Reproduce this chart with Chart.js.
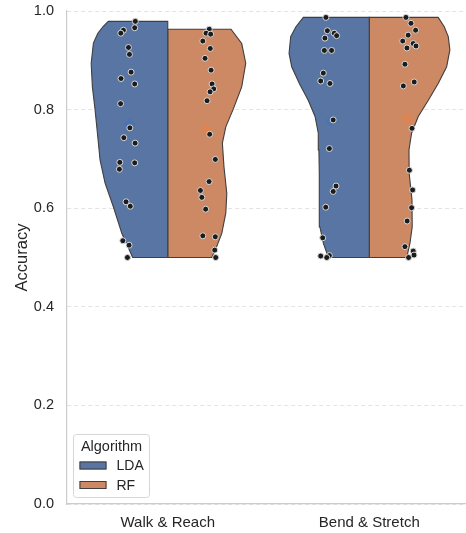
<!DOCTYPE html>
<html>
<head>
<meta charset="utf-8">
<script src="https://cdn.jsdelivr.net/npm/chart.js@4.4.1/dist/chart.umd.min.js"></script>
<style>
  html, body { margin: 0; padding: 0; background: #fff; }
  canvas { display: block; }
</style>
</head>
<body>
<canvas id="violin" width="466" height="533"></canvas>
<script>
// Split violin of accuracy per activity, LDA vs RF
const categories = ['Walk & Reach', 'Bend & Stretch'];
const algorithms = ['LDA', 'RF'];

// raw accuracy values (strip points) and their horizontal jitter
const wrLdaAcc = [0.979, 0.966, 0.961, 0.955, 0.926, 0.912, 0.876, 0.863, 0.852, 0.812, 0.763, 0.743, 0.732, 0.693, 0.692, 0.679, 0.613, 0.604, 0.534, 0.525, 0.500];
const wrLdaJit = [-0.161, -0.164, -0.220, -0.233, -0.195, -0.190, -0.182, -0.232, -0.164, -0.234, -0.188, -0.218, -0.162, -0.238, -0.164, -0.240, -0.207, -0.186, -0.223, -0.192, -0.200];
const wrRfAcc = [0.963, 0.955, 0.953, 0.939, 0.924, 0.904, 0.880, 0.852, 0.842, 0.836, 0.818, 0.750, 0.699, 0.654, 0.636, 0.622, 0.598, 0.544, 0.542, 0.515, 0.500];
const wrRfJit = [0.206, 0.190, 0.213, 0.174, 0.211, 0.185, 0.215, 0.220, 0.228, 0.210, 0.195, 0.208, 0.236, 0.205, 0.162, 0.169, 0.188, 0.174, 0.236, 0.233, 0.238];
const bsLdaAcc = [0.987, 0.960, 0.955, 0.950, 0.945, 0.920, 0.920, 0.874, 0.858, 0.853, 0.779, 0.721, 0.645, 0.634, 0.602, 0.540, 0.504, 0.503, 0.500];
const bsLdaJit = [-0.215, -0.208, -0.174, -0.162, -0.220, -0.223, -0.187, -0.228, -0.241, -0.195, -0.179, -0.198, -0.165, -0.179, -0.216, -0.231, -0.198, -0.241, -0.211];
const bsRfAcc = [0.987, 0.975, 0.961, 0.951, 0.939, 0.934, 0.929, 0.925, 0.892, 0.856, 0.848, 0.762, 0.677, 0.637, 0.601, 0.574, 0.522, 0.513, 0.505, 0.500];
const bsRfJit = [0.182, 0.207, 0.230, 0.193, 0.166, 0.218, 0.232, 0.187, 0.177, 0.223, 0.169, 0.212, 0.199, 0.215, 0.210, 0.188, 0.177, 0.218, 0.222, 0.195];

// group means (diamond markers)
const ldaMeans = [0.771, 0.777];
const rfMeans = [0.759, 0.782];

// violin outlines: accuracy level -> half width (in category units)
const wrLdaLevels = [0.500, 0.549, 0.603, 0.651, 0.698, 0.752, 0.801, 0.846, 0.894, 0.935, 0.955, 0.968, 0.979];
const wrLdaWidths = [0.174, 0.228, 0.270, 0.311, 0.336, 0.349, 0.361, 0.374, 0.380, 0.369, 0.347, 0.322, 0.295];
const wrRfLevels = [0.500, 0.519, 0.549, 0.590, 0.630, 0.684, 0.732, 0.765, 0.801, 0.846, 0.894, 0.934, 0.963];
const wrRfWidths = [0.218, 0.240, 0.268, 0.288, 0.293, 0.279, 0.271, 0.288, 0.325, 0.367, 0.387, 0.367, 0.314];
const bsLdaLevels = [0.500, 0.529, 0.562, 0.617, 0.671, 0.718, 0.752, 0.786, 0.819, 0.853, 0.887, 0.914, 0.948, 0.968, 0.987];
const bsLdaWidths = [0.203, 0.228, 0.245, 0.248, 0.248, 0.250, 0.253, 0.269, 0.303, 0.347, 0.385, 0.398, 0.390, 0.364, 0.327];
const bsRfLevels = [0.500, 0.529, 0.562, 0.617, 0.671, 0.718, 0.752, 0.786, 0.819, 0.853, 0.887, 0.921, 0.948, 0.968, 0.987];
const bsRfWidths = [0.186, 0.202, 0.213, 0.212, 0.198, 0.197, 0.210, 0.243, 0.293, 0.342, 0.384, 0.400, 0.392, 0.372, 0.342];

const yTicks = [0, 0.2, 0.4, 0.6, 0.8, 1.0];

const fillColors = { LDA: '#5875a4', RF: '#cc8963' };
const meanColors = { LDA: '#4c72b0', RF: '#dd8452' };
const edgeColor = '#3f3f3f';
const fontFamily = '"Liberation Sans", Arial, sans-serif';

// build the closed outline of one half violin, side = -1 (left) or +1 (right)
function halfViolin(center, side, levels, widths) {
    const pts = [{ x: center, y: levels[0] }];
    levels.forEach((lv, i) => pts.push({ x: center + side * widths[i], y: lv }));
    pts.push({ x: center, y: levels[levels.length - 1] });
    pts.push({ x: center, y: levels[0] });
    return pts;
}

function strip(center, acc, jit) {
    return acc.map((v, i) => ({ x: center + jit[i], y: v }));
}

const violins = [
    { alg: 'LDA', pts: halfViolin(0, -1, wrLdaLevels, wrLdaWidths) },
    { alg: 'RF', pts: halfViolin(0, 1, wrRfLevels, wrRfWidths) },
    { alg: 'LDA', pts: halfViolin(1, -1, bsLdaLevels, bsLdaWidths) },
    { alg: 'RF', pts: halfViolin(1, 1, bsRfLevels, bsRfWidths) }
];

const stripPoints = [].concat(
    strip(0, wrLdaAcc, wrLdaJit), strip(0, wrRfAcc, wrRfJit),
    strip(1, bsLdaAcc, bsLdaJit), strip(1, bsRfAcc, bsRfJit)
);

const datasets = [];

// points on top
datasets.push({
    type: 'scatter',
    label: 'points',
    data: stripPoints,
    backgroundColor: '#1c1c1c',
    borderColor: '#d8d8d8',
    borderWidth: 1,
    pointRadius: 3,
    order: 0
});

// mean diamonds
algorithms.forEach(alg => {
    const means = alg === 'LDA' ? ldaMeans : rfMeans;
    const side = alg === 'LDA' ? -0.19 : 0.19;
    datasets.push({
        type: 'scatter',
        label: alg + ' mean',
        data: means.map((m, i) => ({ x: i + side, y: m })),
        pointStyle: 'rectRot',
        pointRadius: 6,
        backgroundColor: meanColors[alg],
        borderWidth: 0,
        order: 1
    });
});

// violin halves
violins.forEach(v => {
    datasets.push({
        type: 'scatter',
        label: v.alg,
        data: v.pts,
        showLine: true,
        tension: 0,
        fill: 'shape',
        backgroundColor: fillColors[v.alg],
        borderColor: edgeColor,
        borderWidth: 1.1,
        pointRadius: 0,
        pointHoverRadius: 0,
        order: 2
    });
});

// legend box in the lower-left corner of the plot
const legendBox = {
    id: 'legendBox',
    afterDraw(chart) {
        const ctx = chart.ctx;
        const area = chart.chartArea;
        const x = area.left + 6.5, w = 76, h = 63;
        const y = area.bottom - 6.5 - h;
        ctx.save();
        ctx.beginPath();
        ctx.roundRect(x, y, w, h, 3);
        ctx.fillStyle = 'rgba(255,255,255,0.85)';
        ctx.fill();
        ctx.strokeStyle = '#d6d6d6';
        ctx.lineWidth = 1;
        ctx.stroke();
        ctx.fillStyle = '#262626';
        ctx.font = '14.5px ' + fontFamily;
        ctx.textAlign = 'center';
        ctx.textBaseline = 'middle';
        ctx.fillText('Algorithm', x + w / 2, y + 12);
        ctx.font = '14px ' + fontFamily;
        ctx.textAlign = 'left';
        algorithms.forEach((alg, i) => {
            const cy = y + 31 + i * 19.5;
            ctx.fillStyle = fillColors[alg];
            ctx.fillRect(x + 6, cy - 4, 27, 8);
            ctx.strokeStyle = edgeColor;
            ctx.strokeRect(x + 6.5, cy - 4 + 0.5, 26, 7);
            ctx.fillStyle = '#262626';
            ctx.fillText(alg, x + 43, cy + 1);
        });
        ctx.restore();
    }
};

new Chart(document.getElementById('violin'), {
    type: 'scatter',
    data: { datasets: datasets },
    plugins: [legendBox],
    options: {
        responsive: false,
        animation: false,
        layout: { autoPadding: false, padding: { top: 11, left: 0, right: 0, bottom: 0 } },
        plugins: {
            legend: { display: false },
            tooltip: { enabled: false }
        },
        scales: {
            x: {
                type: 'linear',
                min: -0.5,
                max: 1.48,
                afterBuildTicks: scale => {
                    scale.ticks = categories.map((c, i) => ({ value: i }));
                },
                afterFit: scale => {
                    scale.height = 29;
                    scale.paddingLeft = 0;
                    scale.paddingRight = 0;
                },
                ticks: {
                    callback: v => categories[v],
                    font: { family: fontFamily, size: 15 },
                    color: '#262626',
                    padding: 10,
                    maxRotation: 0
                },
                grid: { display: false, drawTicks: false },
                border: { display: true, color: '#cccccc', width: 1.2 }
            },
            y: {
                min: 0,
                max: 1,
                afterBuildTicks: scale => {
                    scale.ticks = yTicks.map(v => ({ value: v }));
                },
                afterFit: scale => {
                    scale.width = 67;
                    scale.paddingTop = 0;
                    scale.paddingBottom = 0;
                },
                ticks: {
                    callback: v => v.toFixed(1),
                    font: { family: fontFamily, size: 14.5 },
                    color: '#262626',
                    padding: 13
                },
                title: {
                    display: true,
                    text: 'Accuracy',
                    font: { family: fontFamily, size: 16.5 },
                    color: '#262626',
                    padding: { top: 13, bottom: 0 }
                },
                grid: { color: '#e3e3e3', lineWidth: 1, drawTicks: false },
                border: { display: true, color: '#cccccc', width: 1.2, dash: [4, 3] }
            }
        }
    }
});
</script>
</body>
</html>
